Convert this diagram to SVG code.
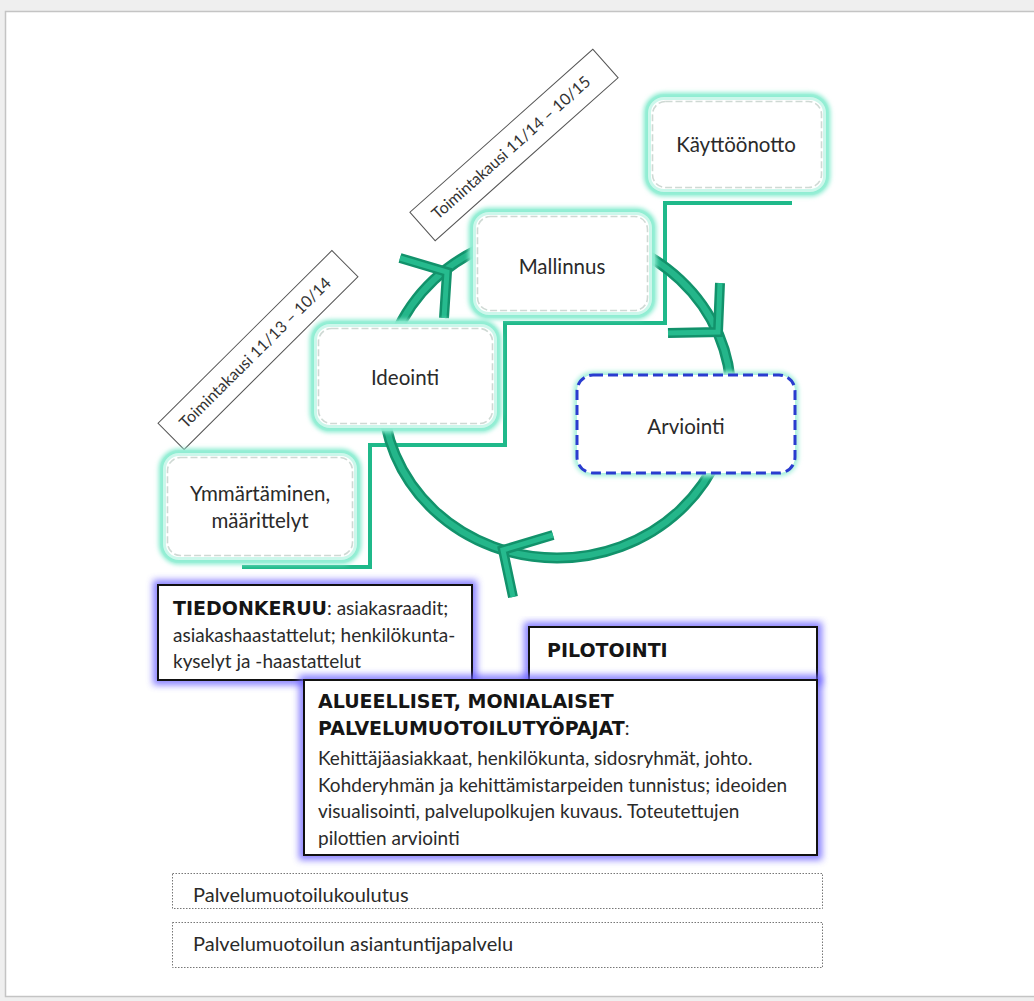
<svg xmlns="http://www.w3.org/2000/svg" width="1034" height="1001" viewBox="0 0 1034 1001">
<defs>
<style>
.t{font-family:Lato,"Liberation Sans",sans-serif;font-size:19px;fill:#2a2a2a}
.n{font-family:Lato,"Liberation Sans",sans-serif;font-size:20.5px;fill:#2a2a2a;text-anchor:middle}
.c{text-anchor:middle}
.b{font-family:"DejaVu Sans","Liberation Sans",sans-serif;font-weight:bold;font-size:19px;fill:#151515}
.lbl{font-family:Lato,"Liberation Sans",sans-serif;font-size:16px;fill:#333;text-anchor:middle}
.glow{fill:#fff;stroke:#8eedd2;stroke-width:9}
.dash{fill:none;stroke:#cfd9d4;stroke-width:1.6;stroke-dasharray:7 3}
.bglow{fill:none;stroke:#6a60ff;stroke-width:10;opacity:0.8}
.bbox{fill:#fff;stroke:#111;stroke-width:2}
.dot{fill:#fff;stroke:#777;stroke-width:1;stroke-dasharray:1.5 1.5}
.step{fill:none;stroke:#1fb98a;stroke-width:4}
.arcO{fill:none;stroke:#12926b;stroke-width:11}
.arcI{fill:none;stroke:#24b68a;stroke-width:6}
.barbO{fill:none;stroke:#12926b;stroke-width:10;stroke-linejoin:miter}
.barbI{fill:none;stroke:#26bb8e;stroke-width:5;stroke-linejoin:miter}
.big{font-size:20px}
</style>
<filter id="soft" x="-10%" y="-10%" width="120%" height="120%"><feGaussianBlur stdDeviation="2"/></filter>
<filter id="bl" x="-10%" y="-20%" width="120%" height="140%"><feGaussianBlur stdDeviation="3.5"/></filter>
</defs>
<rect x="0" y="0" width="1034" height="1001" fill="#efefef"/>
<rect x="5.5" y="11.5" width="1040" height="985" fill="#fff" stroke="#c4c4c4" stroke-width="1.5"/>

<g id="connectors">
<polyline class="step" points="242,567 370,567 370,445 505,445 505,323 665,323 665,203 792,203"/>
<ellipse class="arcO" cx="557" cy="395" rx="174" ry="163"/>
<ellipse class="arcI" cx="557" cy="395" rx="174" ry="163"/>
<polyline class="barbO" points="400,258 447,272 444,318"/>
<polyline class="barbI" points="400,258 447,272 444,318"/>
<polyline class="barbO" points="720,283 718,332 668,333"/>
<polyline class="barbI" points="720,283 718,332 668,333"/>
<polyline class="barbO" points="553,535 503,550 513,597"/>
<polyline class="barbI" points="553,535 503,550 513,597"/>
</g>

<g id="label-1314" transform="translate(258,350) rotate(-44.8)">
<rect x="-122.5" y="-18.5" width="245" height="37" fill="#fff" stroke="#555" stroke-width="1"/>
<text class="lbl" x="-4" y="5.5">Toimintakausi 11/13 – 10/14</text>
</g>
<g id="label-1415" transform="translate(514,145) rotate(-41.7)">
<rect x="-122.5" y="-19" width="245" height="38" fill="#fff" stroke="#555" stroke-width="1"/>
<text class="lbl" x="-4" y="5.5">Toimintakausi 11/14 – 10/15</text>
</g>

<g id="node-kayttoonotto">
<rect class="glow" x="648" y="97" width="178" height="95" rx="16" filter="url(#soft)"/>
<rect class="glow" x="648" y="97" width="178" height="95" rx="16" style="stroke-opacity:0.45;stroke-width:6"/>
<rect class="dash" x="652.5" y="101.5" width="169" height="86" rx="13"/>
<text class="n" x="736" y="152">Käyttöönotto</text>
</g>

<g id="node-mallinnus">
<rect class="glow" x="473" y="212" width="179" height="103" rx="16" filter="url(#soft)"/>
<rect class="glow" x="473" y="212" width="179" height="103" rx="16" style="stroke-opacity:0.45;stroke-width:6"/>
<rect class="dash" x="477.5" y="216.5" width="170" height="94" rx="13"/>
<text class="n" x="562" y="274">Mallinnus</text>
</g>

<g id="node-ideointi">
<rect class="glow" x="314" y="324" width="183" height="104" rx="16" filter="url(#soft)"/>
<rect class="glow" x="314" y="324" width="183" height="104" rx="16" style="stroke-opacity:0.45;stroke-width:6"/>
<rect class="dash" x="318.5" y="328.5" width="174" height="95" rx="13"/>
<text class="n" x="405" y="385">Ideointi</text>
</g>

<g id="node-ymmartaminen">
<rect class="glow" x="163" y="453" width="194" height="107" rx="16" filter="url(#soft)"/>
<rect class="glow" x="163" y="453" width="194" height="107" rx="16" style="stroke-opacity:0.45;stroke-width:6"/>
<rect class="dash" x="167.5" y="457.5" width="185" height="98" rx="13"/>
<text class="n" x="260" y="501">Ymmärtäminen,</text>
<text class="n" x="260" y="528">määrittelyt</text>
</g>

<g id="node-arviointi">
<rect x="577" y="375" width="218" height="98" rx="16" fill="#fff" stroke="#a6f0dc" stroke-width="7" filter="url(#soft)"/>
<rect x="577" y="375" width="218" height="98" rx="16" fill="#fff" stroke="#2a3ccf" stroke-width="3" stroke-dasharray="10 5"/>
<text class="n" x="686" y="434">Arviointi</text>
</g>

<g id="node-tiedonkeruu">
<rect class="bglow" x="158" y="585" width="314" height="95" filter="url(#bl)"/>
<rect class="bbox" x="158" y="585" width="314" height="95"/>
<text class="t" x="173" y="615"><tspan class="b">TIEDONKERUU</tspan>: asiakasraadit;</text>
<text class="t" x="173" y="642">asiakashaastattelut; henkilökunta-</text>
<text class="t" x="173" y="668">kyselyt ja -haastattelut</text>
</g>

<g id="node-pilotointi">
<rect class="bglow" x="529" y="627" width="288" height="53" filter="url(#bl)"/>
<rect class="bbox" x="529" y="627" width="288" height="53"/>
<text class="b" x="547" y="657">PILOTOINTI</text>
</g>

<g id="node-alueelliset">
<rect class="bglow" x="304" y="680" width="513" height="175" filter="url(#bl)"/>
<rect class="bbox" x="304" y="680" width="513" height="175"/>
<text class="b" x="318" y="708">ALUEELLISET, MONIALAISET</text>
<text class="t" x="318" y="735"><tspan class="b">PALVELUMUOTOILUTYÖPAJAT</tspan>:</text>
<text class="t" x="318" y="765">Kehittäjäasiakkaat, henkilökunta, sidosryhmät, johto.</text>
<text class="t" x="318" y="792">Kohderyhmän ja kehittämistarpeiden tunnistus; ideoiden</text>
<text class="t" x="318" y="818">visualisointi, palvelupolkujen kuvaus. Toteutettujen</text>
<text class="t" x="318" y="845">pilottien arviointi</text>
</g>

<g id="node-koulutus">
<rect class="dot" x="172.5" y="873.5" width="650" height="35"/>
<text class="t big" x="193" y="902">Palvelumuotoilukoulutus</text>
</g>

<g id="node-asiantuntija">
<rect class="dot" x="172.5" y="922.5" width="650" height="45"/>
<text class="t big" x="193" y="951">Palvelumuotoilun asiantuntijapalvelu</text>
</g>
</svg>
